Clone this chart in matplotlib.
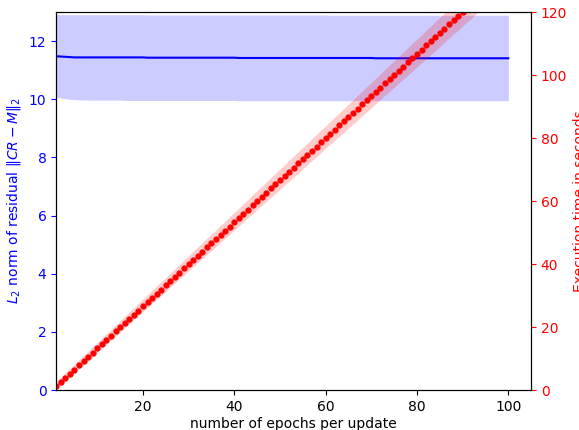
import numpy as np
import matplotlib
matplotlib.use('Agg')
import matplotlib.pyplot as plt

# epochs per update
epochs = np.arange(1, 101)

# residual norm (mean, lower and upper of band)
res_mean = [11.48, 11.47, 11.46, 11.45, 11.44, 11.44, 11.44, 11.44, 11.44, 11.44,
            11.44, 11.44, 11.44, 11.44, 11.44, 11.44, 11.44, 11.44, 11.44, 11.44,
            11.43, 11.43, 11.43, 11.43, 11.43, 11.43, 11.43, 11.43, 11.43, 11.43,
            11.43, 11.43, 11.43, 11.43, 11.43, 11.43, 11.43, 11.43, 11.43, 11.43,
            11.42, 11.42, 11.42, 11.42, 11.42, 11.42, 11.42, 11.42, 11.42, 11.42,
            11.42, 11.42, 11.42, 11.42, 11.42, 11.42, 11.42, 11.42, 11.42, 11.42,
            11.42, 11.42, 11.42, 11.42, 11.42, 11.42, 11.42, 11.42, 11.42, 11.42,
            11.41, 11.41, 11.41, 11.41, 11.41, 11.41, 11.41, 11.41, 11.41, 11.41,
            11.41, 11.41, 11.41, 11.41, 11.41, 11.41, 11.41, 11.41, 11.41, 11.41,
            11.41, 11.41, 11.41, 11.41, 11.41, 11.41, 11.41, 11.41, 11.41, 11.41]
res_low = [10.06, 10.05, 10.02, 10.00, 9.99, 9.98, 9.98, 9.97, 9.97, 9.97,
           9.97, 9.97, 9.97, 9.97, 9.97, 9.96, 9.96, 9.96, 9.96, 9.96,
           9.96, 9.96, 9.96, 9.96, 9.96, 9.96, 9.96, 9.96, 9.96, 9.96,
           9.96, 9.96, 9.96, 9.96, 9.96, 9.96, 9.96, 9.96, 9.96, 9.96,
           9.95, 9.95, 9.95, 9.95, 9.95, 9.95, 9.95, 9.95, 9.95, 9.95,
           9.95, 9.95, 9.95, 9.95, 9.95, 9.95, 9.95, 9.95, 9.95, 9.95,
           9.95, 9.95, 9.95, 9.95, 9.95, 9.95, 9.95, 9.95, 9.95, 9.95,
           9.95, 9.95, 9.95, 9.95, 9.95, 9.95, 9.95, 9.95, 9.95, 9.95,
           9.95, 9.95, 9.95, 9.95, 9.95, 9.95, 9.95, 9.95, 9.95, 9.95,
           9.95, 9.95, 9.95, 9.95, 9.95, 9.95, 9.95, 9.95, 9.95, 9.95]
res_high = [12.91, 12.91, 12.91, 12.91, 12.91, 12.91, 12.91, 12.91, 12.91, 12.91,
            12.91, 12.91, 12.91, 12.91, 12.91, 12.91, 12.91, 12.91, 12.91, 12.91,
            12.90, 12.90, 12.90, 12.90, 12.90, 12.90, 12.90, 12.90, 12.90, 12.90,
            12.90, 12.90, 12.90, 12.90, 12.90, 12.90, 12.90, 12.90, 12.90, 12.90,
            12.90, 12.90, 12.90, 12.90, 12.90, 12.90, 12.90, 12.90, 12.90, 12.90,
            12.90, 12.90, 12.90, 12.90, 12.90, 12.90, 12.90, 12.90, 12.90, 12.90,
            12.89, 12.89, 12.89, 12.89, 12.89, 12.89, 12.89, 12.89, 12.89, 12.89,
            12.89, 12.89, 12.89, 12.89, 12.89, 12.89, 12.89, 12.89, 12.89, 12.89,
            12.89, 12.89, 12.89, 12.89, 12.89, 12.89, 12.89, 12.89, 12.89, 12.89,
            12.89, 12.89, 12.89, 12.89, 12.89, 12.89, 12.89, 12.89, 12.89, 12.89]

# execution time in seconds (mean and spread)
exec_time = [1.2, 2.5, 3.9, 5.2, 6.5, 7.9, 9.2, 10.5, 11.9, 13.2,
             14.6, 15.9, 17.2, 18.6, 19.9, 21.2, 22.6, 23.9, 25.2, 26.6,
             27.9, 29.2, 30.6, 31.9, 33.2, 34.6, 35.9, 37.3, 38.6, 39.9,
             41.3, 42.6, 43.9, 45.3, 46.6, 47.9, 49.3, 50.6, 51.9, 53.3,
             54.6, 56.0, 57.3, 58.6, 60.0, 61.3, 62.6, 64.0, 65.3, 66.6,
             68.0, 69.3, 70.6, 72.0, 73.3, 74.6, 76.0, 77.3, 78.7, 80.0,
             81.3, 82.7, 84.0, 85.3, 86.7, 88.0, 89.3, 90.7, 92.0, 93.3,
             94.7, 96.0, 97.4, 98.7, 100.0, 101.4, 102.7, 104.0, 105.4, 106.7,
             108.0, 109.4, 110.7, 112.0, 113.4, 114.7, 116.1, 117.4, 118.7, 120.1,
             121.4, 122.7, 124.1, 125.4, 126.7, 128.1, 129.4, 130.8, 132.1, 133.4]
time_std = [1.2, 1.3, 1.3, 1.4, 1.4, 1.4, 1.5, 1.5, 1.6, 1.6,
            1.6, 1.7, 1.7, 1.8, 1.8, 1.8, 1.9, 1.9, 2.0, 2.0,
            2.0, 2.1, 2.1, 2.2, 2.2, 2.2, 2.3, 2.3, 2.4, 2.4,
            2.4, 2.5, 2.5, 2.6, 2.6, 2.6, 2.7, 2.7, 2.8, 2.8,
            2.8, 2.9, 2.9, 3.0, 3.0, 3.0, 3.1, 3.1, 3.2, 3.2,
            3.2, 3.3, 3.3, 3.4, 3.4, 3.4, 3.5, 3.5, 3.6, 3.6,
            3.6, 3.7, 3.7, 3.8, 3.8, 3.8, 3.9, 3.9, 4.0, 4.0,
            4.0, 4.1, 4.1, 4.2, 4.2, 4.2, 4.3, 4.3, 4.4, 4.4,
            4.4, 4.5, 4.5, 4.6, 4.6, 4.6, 4.7, 4.7, 4.8, 4.8,
            4.8, 4.9, 4.9, 5.0, 5.0, 5.0, 5.1, 5.1, 5.2, 5.2]

exec_time = np.array(exec_time)
time_std = np.array(time_std)

fig, ax = plt.subplots(figsize=(5.79, 4.30), dpi=100)
fig.subplots_adjust(left=0.097, right=0.917, top=0.972, bottom=0.093)

# residual norm on left axis
ax.plot(epochs, res_mean, color='blue')
ax.fill_between(epochs, res_low, res_high, color='blue', alpha=0.2, linewidth=0)
ax.set_ylim(0, 13)
ax.set_xlim(left=1)
ax.set_xlabel('number of epochs per update', labelpad=2)
ax.set_ylabel(r'$L_2$ norm of residual $\Vert CR-M\Vert_2$', color='blue')
ax.tick_params(axis='y', colors='blue')

# execution time on right axis
ax2 = ax.twinx()
ax2.plot(epochs, exec_time, 'o', color='red', markersize=3.5)
ax2.fill_between(epochs, exec_time - time_std, exec_time + time_std,
                 color='red', alpha=0.2, linewidth=0)
ax2.set_ylim(0, 120)
ax2.set_ylabel('Execution time in seconds', color='red')
ax2.tick_params(axis='y', colors='red')

plt.savefig('out.png', dpi=100)
